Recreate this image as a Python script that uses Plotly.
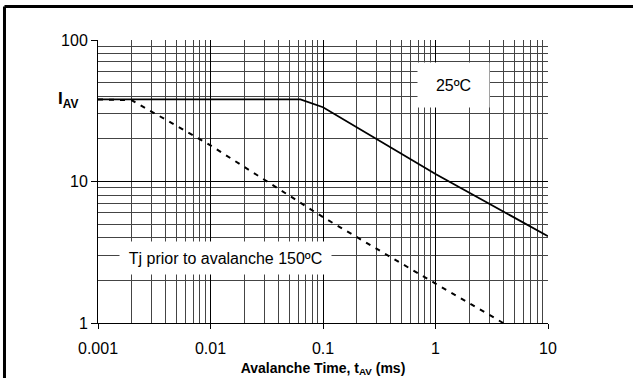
import plotly.graph_objects as go

# Data
t_25c = [0.001, 0.063, 0.1, 1.0, 10.0]
i_25c = [38.0, 38.0, 33.5, 11.3, 4.1]

t_150c = [0.001, 0.002, 0.01, 0.1, 1.0, 4.0]
i_150c = [38.0, 37.5, 18.0, 5.6, 1.9, 1.0]

x_ticks = [0.001, 0.01, 0.1, 1, 10]
x_ticklabels = ["0.001", "0.01", "0.1", "1", "10"]
y_ticks = [1, 10, 100]
y_ticklabels = ["1", "10", "100"]
x_minor = [m * d for d in [0.001, 0.01, 0.1, 1] for m in range(2, 10)]
y_minor = [m * d for d in [1, 10] for m in range(2, 10)]

FONT = "Liberation Sans, Arial, sans-serif"

fig = go.Figure()
fig.add_trace(go.Scatter(x=t_25c, y=i_25c, mode="lines",
                         line=dict(color="black", width=1.8), showlegend=False))
fig.add_trace(go.Scatter(x=t_150c, y=i_150c, mode="lines",
                         line=dict(color="black", width=2, dash="5px,6px"), showlegend=False))

fig.update_xaxes(type="log", range=[-3, 1], tickmode="array", tickvals=x_ticks, ticktext=x_ticklabels,
                 showgrid=True, gridcolor="black", gridwidth=1, automargin=False,
                 minor=dict(tickmode="array", tickvals=x_minor, showgrid=True,
                            gridcolor="#444444", gridwidth=1, ticks=""),
                 showline=True, linecolor="black", linewidth=1,
                 ticks="outside", ticklen=5, tickcolor="black", ticklabelstandoff=6,
                 tickfont=dict(family=FONT, size=16, color="black"),
                 zeroline=False,
                 title=dict(text="<b>Avalanche Time, t<sub>AV</sub> (ms)</b>",
                            font=dict(family=FONT, size=14, color="black"), standoff=6))
fig.update_yaxes(type="log", range=[0, 2], tickmode="array", tickvals=y_ticks, ticktext=y_ticklabels,
                 showgrid=True, gridcolor="black", gridwidth=1, automargin=False,
                 minor=dict(tickmode="array", tickvals=y_minor, showgrid=True,
                            gridcolor="#444444", gridwidth=1, ticks=""),
                 showline=True, linecolor="black", linewidth=1, mirror=False,
                 ticks="outside", ticklen=6, tickcolor="black",
                 tickfont=dict(family=FONT, size=16, color="black"),
                 zeroline=False)

fig.add_annotation(x=0.79, y=0.841, xref="paper", yref="paper", text="25ºC",
                   xanchor="center", yanchor="middle",
                   showarrow=False, bgcolor="white", width=71, height=44, borderpad=0,
                   font=dict(family=FONT, size=16, color="black"))
fig.add_annotation(x=0.2844, y=0.2297, xref="paper", yref="paper",
                   text="Tj prior to avalanche 150ºC",
                   xanchor="center", yanchor="middle",
                   showarrow=False, bgcolor="white", width=211, height=32, borderpad=0,
                   font=dict(family=FONT, size=16, color="black"))
fig.add_annotation(x=-0.0667, y=0.788, xref="paper", yref="paper",
                   text="<b>I<sub>AV</sub></b>", showarrow=False,
                   xanchor="center", yanchor="middle",
                   font=dict(family=FONT, size=17, color="black"))

# outer frame (top and left edges)
fig.add_shape(type="line", xref="paper", yref="paper", x0=-0.2078, x1=1.2, y0=1.118, y1=1.118,
              line=dict(color="black", width=3))
fig.add_shape(type="line", xref="paper", yref="paper", x0=-0.2078, x1=-0.2078, y0=-0.3, y1=1.118,
              line=dict(color="black", width=3))

fig.update_layout(width=633, height=378, margin=dict(l=98, r=85, t=40, b=55, autoexpand=False),
                  paper_bgcolor="white", plot_bgcolor="white")

fig.write_html("out.html", config={"displayModeBar": False},
               post_script="document.body.style.margin='0';")
